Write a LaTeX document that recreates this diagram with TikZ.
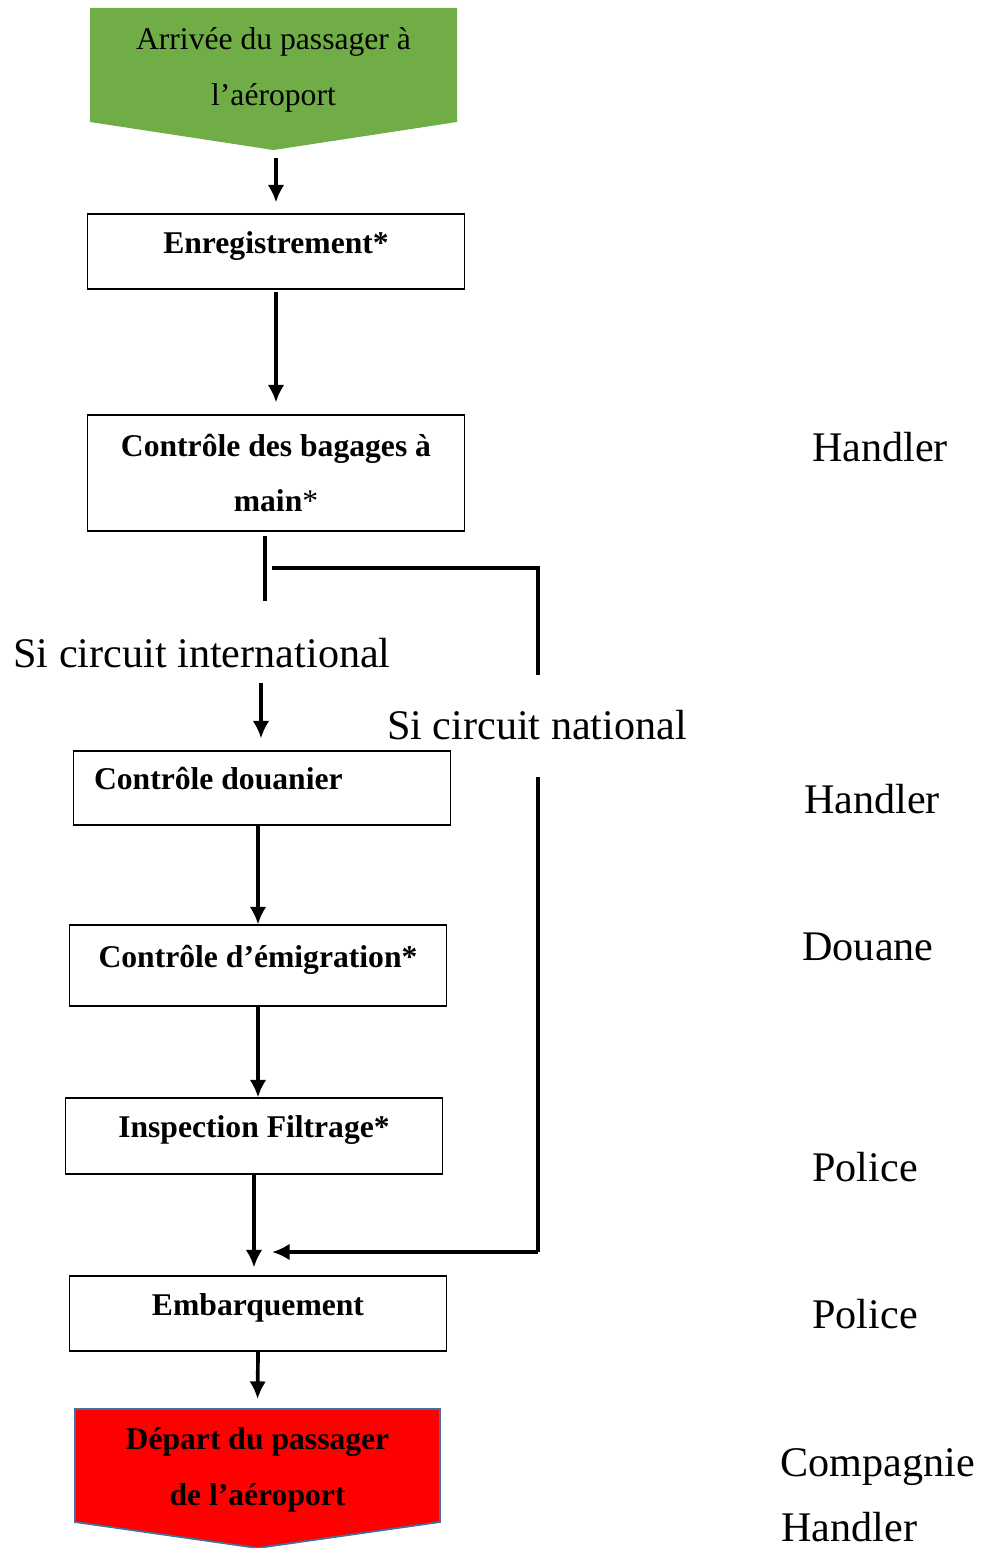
\documentclass[tikz,border=0pt]{standalone}
\usepackage{fontspec}
\setmainfont{Liberation Serif}
\usetikzlibrary{arrows.meta}
\definecolor{arrgreen}{RGB}{112,173,71}
\definecolor{depborder}{RGB}{65,113,156}
\tikzstyle{line} = [draw, line width=2.1pt, -{Latex[length=10pt,width=9.5pt]}]
\tikzstyle{linebar} = [draw, line width=2pt]
\tikzstyle{linethick} = [draw, line width=2.4pt]
\tikzstyle{stepbox} = [draw, line width=0.6pt, rectangle, minimum width=7.56cm, inner sep=0pt, font=\bfseries\fontsize{18pt}{31pt}\selectfont]
\tikzstyle{onerow} = [text height=0.7em, text depth=0.5em]
\tikzstyle{tag} = [anchor=base, inner sep=0pt, font=\fontsize{24pt}{29pt}\selectfont]

\begin{document}
\begin{tikzpicture}[x=0.02cm, y=-0.02cm]
    \useasboundingbox (0,0) rectangle (988,1548);
    \coordinate (arrtip) at (273.5,150);
    \fill[arrgreen] (90,8) -- (457,8) -- (457,122) -- (arrtip) -- (90,122) -- cycle;
    \node (arrtxt) at (273.5,70) [align=center, font=\fontsize{18pt}{32pt}\selectfont] {Arrivée du passager à\\l’aéroport};
    \node (enreg) at (276,251.5) [stepbox, onerow, minimum height=1.5cm] {Enregistrement*};
    \node (bagages) at (276,473) [stepbox, minimum height=2.32cm, align=center] {Contrôle des bagages à\\main{\mdseries*}};
    \node (douanier) at (262,788) [stepbox, onerow, minimum height=1.48cm, text width=6.72cm, align=flush left] {Contrôle douanier};
    \node (emigr) at (258,965.5) [stepbox, onerow, minimum height=1.62cm] {Contrôle d’émigration*};
    \node (inspect) at (254,1136) [stepbox, onerow, minimum height=1.52cm] {Inspection Filtrage*};
    \node (embarq) at (258,1313.5) [stepbox, onerow, minimum height=1.5cm] {Embarquement};
    \coordinate (deptop) at (257.5,1409);
    \coordinate (deptip) at (257.5,1548);
    \filldraw[fill=red, draw=depborder, line width=1pt] (75,1409) -- (440,1409) -- (440,1522) -- (deptip) -- (75,1522) -- cycle;
    \node (deptxt) at (257.5,1470) [align=center, font=\bfseries\fontsize{18pt}{32pt}\selectfont] {Départ du passager\\de l’aéroport};
    \node (hdl1) [tag] at (880,461) {Handler};
    \node (intl) [tag] at (202,667) {Si circuit international};
    \node (natl) [tag] at (537,739) {Si circuit national};
    \node (hdl2) [tag] at (872,813) {Handler};
    \node (douane) [tag] at (868,960) {Douane};
    \node (pol1) [tag] at (865,1181) {Police};
    \node (pol2) [tag] at (865,1328) {Police};
    \node (comp) [tag, anchor=base west] at (780,1476) {Compagnie};
    \node (hdl3) [tag, anchor=base west] at (781,1541) {Handler};
    \coordinate (split) at (265,568);
    \coordinate (intlend) at (265,601);
    \coordinate (natcorner) at (538,568);
    \coordinate (natgap) at (538,675);
    \coordinate (intlout) at (261,683);
    \coordinate (natin) at (538,777);
    \coordinate (natjoin) at (538,1252);
    \coordinate (merge) at (272,1252);
    \path [line, shorten <=0.16cm, shorten >=0.22cm] (arrtip -| enreg.north) -- (enreg.north);
    \path [line, shorten <=0.04cm, shorten >=0.24cm] (enreg.south) -- (bagages.north);
    \path [linebar, shorten <=0.08cm] (split |- bagages.south) -- (intlend);
    \path [linethick, shorten <=0.14cm] (split) -- (natcorner) -- (natgap);
    \path [line, shorten >=0.24cm] (intlout) -- (intlout |- douanier.north);
    \path [line] (emigr.north |- douanier.south) -- (emigr.north);
    \path [line] (emigr.south) -- (emigr.south |- inspect.north);
    \path [line, shorten >=0.16cm] (inspect.south) -- (inspect.south |- embarq.north);
    \path [line, shorten >=0.2cm] (embarq.south) -- (deptop);
    \path [linethick] (natin) -- (natjoin);
    \path [line, line width=2.4pt] (natjoin) -- (merge);
\end{tikzpicture}
\end{document}
